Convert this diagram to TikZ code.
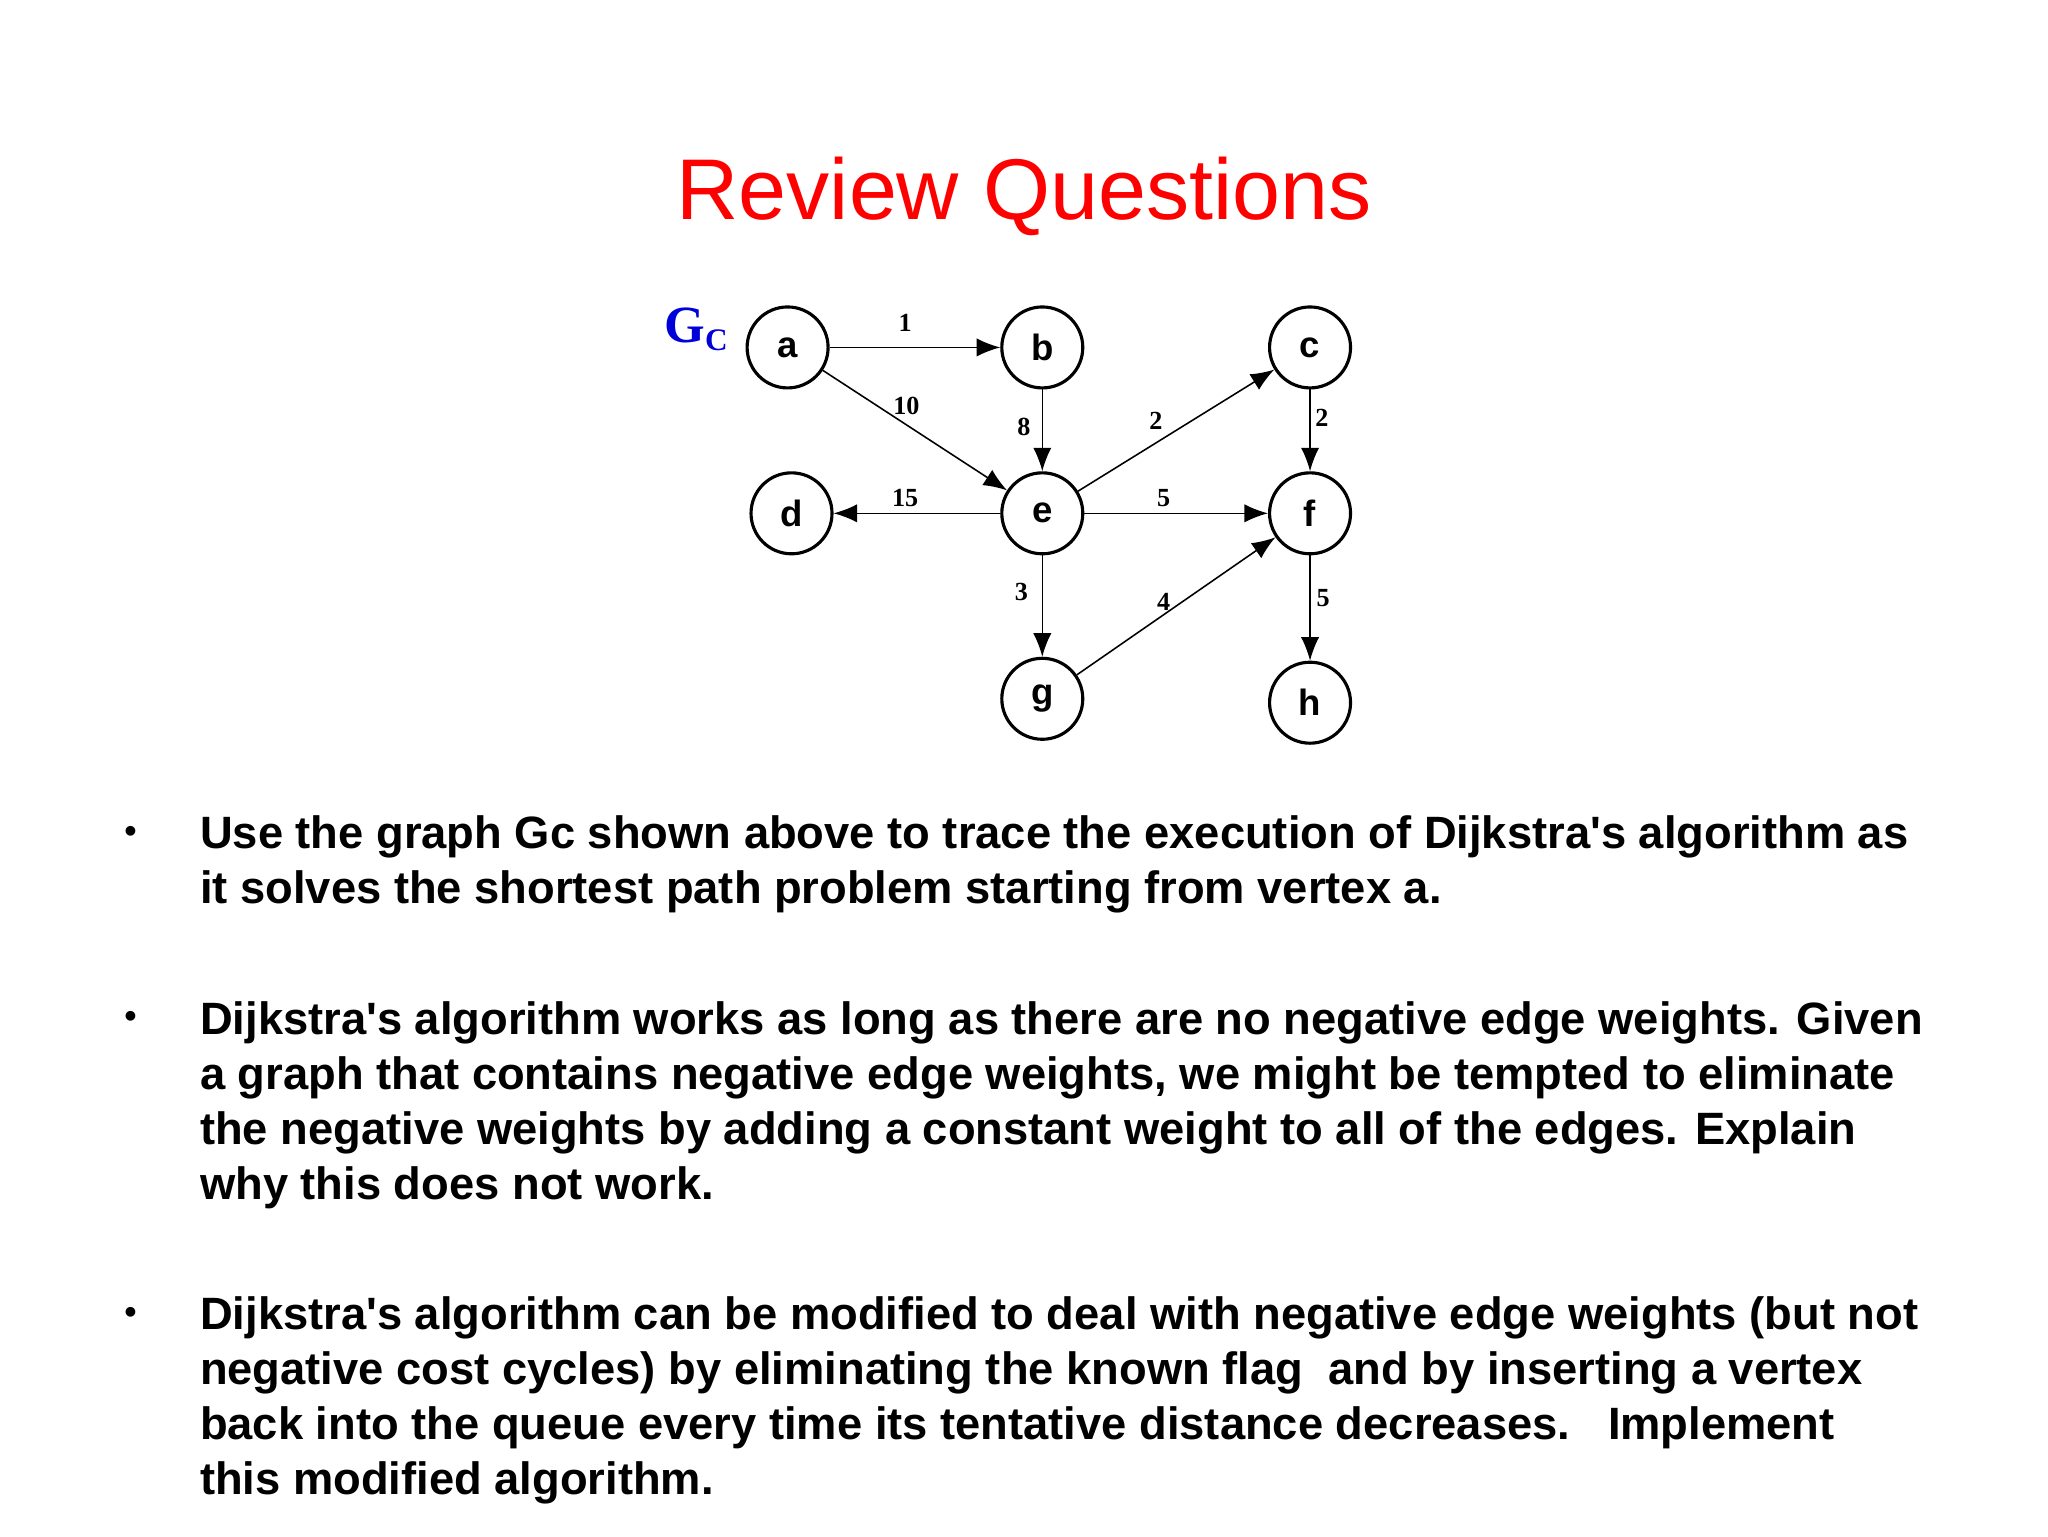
\documentclass[tikz,border=0pt]{standalone}
\usepackage{fontspec}
\setmainfont{Liberation Sans}
\newfontfamily\serifg{Liberation Serif}
\usetikzlibrary{arrows.meta}
\newcommand{\apo}{\textquotesingle}
\begin{document}
\begin{tikzpicture}[x=1pt,y=-1pt,
  vtx/.style={circle,draw,line width=2.4pt,minimum size=62pt,inner sep=0pt,font=\bfseries\fontsize{28}{30}\selectfont},
  edg/.style={line width=1.2pt,-{Latex[length=18pt,width=14pt]}},
  wt/.style={font=\serifg\bfseries\fontsize{20}{22}\selectfont,inner sep=1pt},
  txt/.style={anchor=base west,inner sep=0pt,font=\bfseries\fontsize{34.7}{37}\selectfont},
  bul/.style={anchor=base,inner sep=0pt,font=\bfseries\fontsize{26}{28}\selectfont}]
\useasboundingbox (0,0) rectangle (1568,1176);
\node[text=red,font=\fontsize{66}{70}\selectfont] (title) at (784,150) {Review Questions};
\node[text=blue!85!black,font=\serifg\bfseries\fontsize{40}{42}\selectfont] (gc) at (533,252) {G\raisebox{-6pt}{\fontsize{24}{26}\selectfont C}};
\node[vtx] (a) at (603,266) {a};
\node[vtx] (b) at (798,266) {b};
\node[vtx] (c) at (1003,266) {c};
\node[vtx] (d) at (606,393) {d};
\node[vtx] (e) at (798,393) {e};
\node[vtx] (f) at (1003,393) {f};
\node[vtx] (g) at (798,535) {g};
\node[vtx] (h) at (1003,538) {h};
\draw[edg] (a) -- (b);
\draw[edg] (a) -- (e);
\draw[edg] (b) -- (e);
\draw[edg] (e) -- (c);
\draw[edg] (c) -- (f);
\draw[edg] (e) -- (d);
\draw[edg] (e) -- (f);
\draw[edg] (e) -- (g);
\draw[edg] (g) -- (f);
\draw[edg] (f) -- (h);
\node[wt] (w1) at (693,247) {1};
\node[wt] (w2) at (694,311) {10};
\node[wt] (w3) at (784,327) {8};
\node[wt] (w4) at (885,322) {2};
\node[wt] (w5) at (1012,320) {2};
\node[wt] (w6) at (693,381) {15};
\node[wt] (w7) at (891,381) {5};
\node[wt] (w8) at (782,453) {3};
\node[wt] (w9) at (891,461) {4};
\node[wt] (w10) at (1013,458) {5};
\node[bul] (b1) at (100,645) {•};
\node[bul] (b2) at (100,787) {•};
\node[bul] (b3) at (100,1013) {•};
\node[txt] (l1) at (153,650) {Use the graph Gc shown above to trace the execution of Dijkstra\apo s algorithm as};
\node[txt] (l2) at (153,692) {it solves the shortest path problem starting from vertex a.};
\node[txt] (l3) at (153,792) {Dijkstra\apo s algorithm works as long as there are no negative edge weights. Given};
\node[txt] (l4) at (153,834) {a graph that contains negative edge weights, we might be tempted to eliminate};
\node[txt] (l5) at (153,876) {the negative weights by adding a constant weight to all of the edges. Explain};
\node[txt] (l6) at (153,918) {why this does not work.};
\node[txt] (l7) at (153,1018) {Dijkstra\apo s algorithm can be modified to deal with negative edge weights (but not};
\node[txt] (l8) at (153,1060) {negative cost cycles) by eliminating the known flag\ \ and by inserting a vertex};
\node[txt] (l9) at (153,1102) {back into the queue every time its tentative distance decreases.\ \ \ Implement};
\node[txt] (l10) at (153,1144) {this modified algorithm.};
\end{tikzpicture}
\end{document}
